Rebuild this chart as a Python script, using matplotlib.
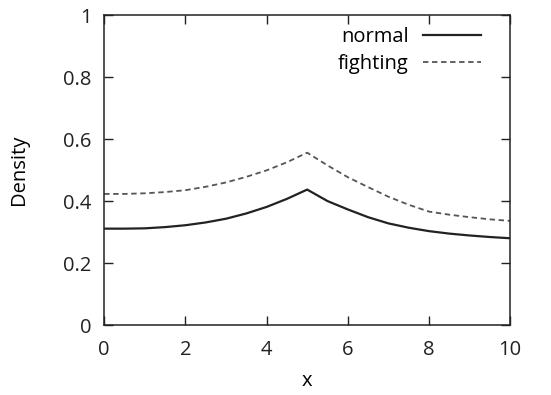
import matplotlib
matplotlib.use("Agg")
import matplotlib.pyplot as plt

x = [0, 0.5, 1, 1.5, 2, 2.5, 3, 3.5, 4, 4.5, 5, 5.5, 6, 6.5, 7, 7.5, 8, 8.5, 9, 9.5, 10]
normal = [0.311, 0.311, 0.312, 0.316, 0.322, 0.331, 0.343, 0.360, 0.381, 0.407, 0.437,
          0.400, 0.373, 0.348, 0.328, 0.314, 0.303, 0.295, 0.289, 0.284, 0.280]
fighting = [0.423, 0.423, 0.425, 0.429, 0.435, 0.446, 0.460, 0.478, 0.499, 0.525, 0.556,
            0.515, 0.477, 0.445, 0.414, 0.388, 0.366, 0.356, 0.348, 0.341, 0.336]
xticks = [0, 2, 4, 6, 8, 10]
yticks = [0, 0.2, 0.4, 0.6, 0.8, 1]
yticklabels = ["0", "0.2", "0.4", "0.6", "0.8", "1"]

plt.rcParams['font.family'] = ['Open Sans', 'DejaVu Sans']

fig = plt.figure(figsize=(5.51, 3.95), dpi=100)
ax = fig.add_axes([0.189, 0.177, 0.737, 0.785])
ax.plot(x, normal, color='#222222', lw=1.6, label='normal')
ax.plot(x, fighting, color='#555555', lw=1.3, dashes=(3, 2), label='fighting')
ax.set_xlim(0, 10)
ax.set_ylim(0, 1)
ax.set_xticks(xticks)
ax.set_xticklabels([str(t) for t in xticks])
ax.set_yticks(yticks)
ax.set_yticklabels(yticklabels)
ax.tick_params(direction='in', length=6.5, width=1, top=True, right=True,
               labelsize=14.5, colors='#222222')
ax.tick_params(axis='x', pad=11)
ax.tick_params(axis='y', pad=9)
for s in ax.spines.values():
    s.set_linewidth(1.1)
    s.set_color('#222222')
ax.set_xlabel('x', fontsize=14.5, labelpad=8)
ax.set_ylabel('Density', fontsize=14.5, labelpad=25)
ax.legend(loc='upper right', markerfirst=False, frameon=False, fontsize=14.5,
          handlelength=2.9, borderaxespad=0.2, borderpad=0.4, labelspacing=0.35,
          handletextpad=0.7, bbox_to_anchor=(0.958, 1.0))
fig.savefig('out.png', dpi=100)
